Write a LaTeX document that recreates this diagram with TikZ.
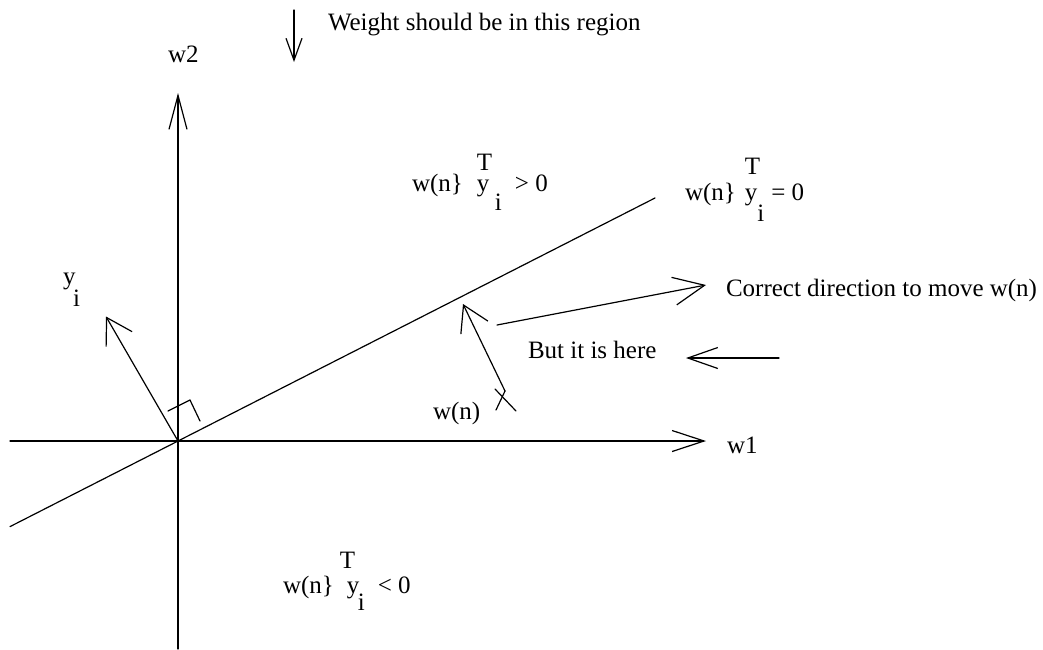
\documentclass[tikz,border=0pt]{standalone}
\usepackage{fontspec}
\setmainfont{Liberation Serif}
\usetikzlibrary{arrows.meta}
\begin{document}
\begin{tikzpicture}[x=1pt,y=-1pt,
  every node/.style={inner sep=0pt,outer sep=0pt,anchor=base west,font=\fontsize{25}{30}\selectfont},
  ln/.style={line width=1.2pt,line cap=round,line join=round},
  axisarrow/.style={ln,-{Straight Barb[length=32pt,width=21pt,line width=1.2pt]}},
  vecarrow/.style={ln,-{Straight Barb[length=25pt,width=30pt,line width=1.2pt]}},
  smallarrow/.style={ln,-{Straight Barb[length=22pt,width=16pt,line width=1.2pt]}}]
\useasboundingbox (0,0) rectangle (1043,649);
% coordinates
\coordinate (O) at (178,441);
\coordinate (xl) at (10,441);
\coordinate (xr) at (706,441);
\coordinate (yb) at (178,649);
\coordinate (yt) at (178,93);
\coordinate (dl) at (10,526.6);
\coordinate (dr) at (655,198);
\coordinate (yi) at (106,316.5);
\coordinate (wt) at (463,304);
\coordinate (wb) at (505,391);
\coordinate (cd0) at (497,325);
\coordinate (cd1) at (706,285);
\coordinate (la0) at (779,358);
\coordinate (la1) at (686,358);
\coordinate (wa0) at (294,10);
\coordinate (wa1) at (294,62);
% axes
\draw[axisarrow] (xl) -- (xr);
\draw[ln,-{Straight Barb[length=34pt,width=18pt,line width=1.2pt]}] (yb) -- (yt);
\node (w1) at (727,453) {w1};
\node (w2) at (168,62) {w2};
% decision line
\draw[ln] (dl) -- (dr);
% y_i vector
\draw[vecarrow] (O) -- (yi);
\node (ylab) at (63,284) {y\hspace{-2.5pt}\raisebox{-22pt}{i}};
% right-angle marker
\draw[ln] (168,411) -- (190,400) -- (200,421);
% w(n) vector with tail mark
\draw[vecarrow] (wb) -- (wt);
\draw[ln] (wb) -- (496,410);
\draw[ln] (495,389) -- (516,411);
\node (wn) at (433,419) {w(n)};
% correct direction
\draw[ln,-{Straight Barb[length=31pt,width=28pt,line width=1.2pt]}] (cd0) -- (cd1);
\node (cdtext) at (726,296) {Correct direction to move w(n)};
% but it is here
\node (here) at (528,358) {But it is here};
\draw[ln,-{Straight Barb[length=30pt,width=21pt,line width=1.2pt]}] (la0) -- (la1);
% weight region
\draw[smallarrow] (wa0) -- (wa1);
\node (wtext) at (328,30) {Weight should be in this region};
% w(n}^T y_i > 0
\node (gt) at (412,191) {w(n\}\hspace{14.1pt}\rlap{\raisebox{21pt}{T}}y\hspace{5.5pt}\raisebox{-19pt}{i}\hspace{13pt}> 0};
% = 0
\node (eq) at (685,200) {w(n\}\hspace{9pt}\rlap{\raisebox{26pt}{T}}y\raisebox{-21pt}{i}\hspace{7pt}= 0};
% < 0
\node (lt) at (283,593) {w(n\}\hspace{13pt}\rlap{\hspace{-7pt}\raisebox{25pt}{T}}y\hspace{-1.5pt}\raisebox{-17pt}{i}\hspace{13pt}< 0};
\end{tikzpicture}
\end{document}
